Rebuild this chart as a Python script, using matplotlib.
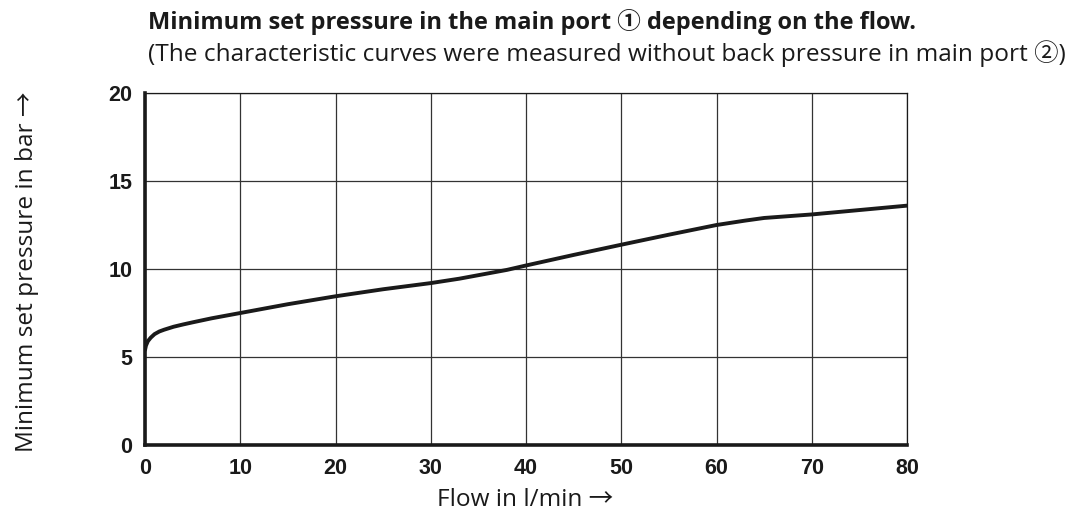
import matplotlib.pyplot as plt

# values
flow = [0, 0.1, 0.3, 0.6, 1, 1.5, 2, 3, 4, 5, 7, 10, 15, 20, 25, 30, 33, 36, 38, 40,
        45, 50, 55, 60, 63, 65, 70, 75, 80]
pressure = [5.4, 5.65, 5.9, 6.1, 6.3, 6.45, 6.55, 6.72, 6.85, 6.97, 7.2, 7.5, 8.0, 8.45,
            8.85, 9.2, 9.45, 9.75, 9.95, 10.2, 10.8, 11.38, 11.95, 12.5, 12.75, 12.9,
            13.1, 13.35, 13.6]
x_ticks = [0, 10, 20, 30, 40, 50, 60, 70, 80]
y_ticks = [0, 5, 10, 15, 20]

fam = ['Open Sans', 'Noto Sans CJK SC', 'DejaVu Sans']
tick_fam = ['Liberation Sans', 'DejaVu Sans']
ink = '#1a1a1a'

fig = plt.figure(figsize=(10.79, 5.15), dpi=100)
ax = fig.add_axes([0.1344, 0.1359, 0.7062, 0.6835])

ax.plot(flow, pressure, color=ink, lw=2.8, solid_capstyle='round', zorder=3)

ax.set_xlim(0, 80)
ax.set_ylim(0, 20)
ax.set_xticks(x_ticks)
ax.set_yticks(y_ticks)
ax.grid(True, color='#333333', lw=0.9)
ax.tick_params(length=0, pad=9)
for lab in ax.get_xticklabels() + ax.get_yticklabels():
    lab.set_family(tick_fam)
    lab.set_fontweight('bold')
    lab.set_fontsize(15.5)
    lab.set_color(ink)

ax.spines['left'].set_linewidth(2.6)
ax.spines['bottom'].set_linewidth(2.6)
ax.spines['top'].set_linewidth(0.9)
ax.spines['right'].set_linewidth(0.9)
for s in ax.spines.values():
    s.set_color(ink)

fig.text(0.137, 0.957, "Minimum set pressure in the main port \u2460 depending on the flow.",
         fontsize=17, fontweight='bold', family=fam, va='center', ha='left', color=ink)
fig.text(0.137, 0.895, "(The characteristic curves were measured without back pressure in main port \u2461)",
         fontsize=17.6, family=fam, va='center', ha='left', color=ink)

fig.text(0.4865, 0.03, "Flow in l/min \u2192", fontsize=17.6, family=fam,
         va='center', ha='center', color=ink)
fig.text(0.025, 0.472, "Minimum set pressure in bar \u2192", fontsize=17.6, family=fam,
         rotation=90, va='center', ha='center', color=ink)

fig.savefig('out.png', dpi=100)
